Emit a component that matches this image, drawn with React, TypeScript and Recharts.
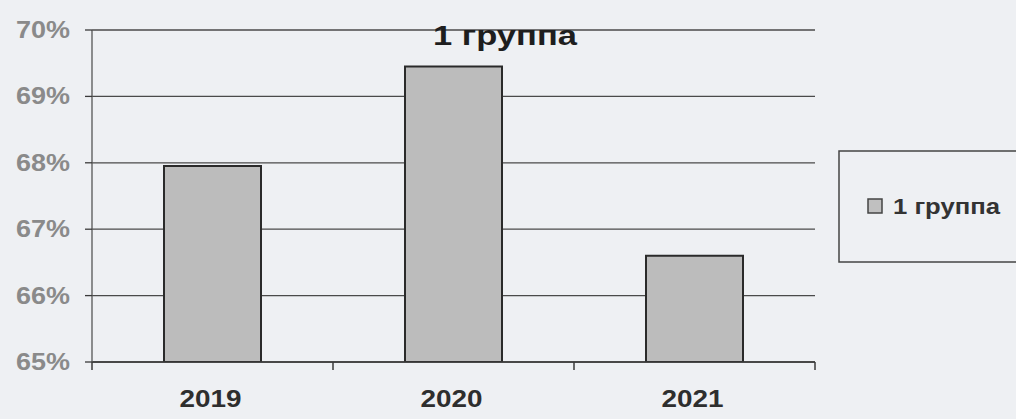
import React from "react";
import { BarChart, Bar, XAxis, YAxis, CartesianGrid } from "recharts";

const years = ["2019", "2020", "2021"];
const group1 = [67.95, 69.45, 66.6];
const yTicks = [65, 66, 67, 68, 69, 70];
const seriesName = "1 группа";
const chartTitle = "1 группа";

const data = years.map((year, i) => ({ idx: i + 0.5, year, value: group1[i] }));

const FONT = "'Liberation Sans', Arial, sans-serif";
const INK = "#3a3a3a";

const YTick = (props: any) => {
  const { x, y, payload } = props;
  return (
    <text
      x={x}
      y={y + 8}
      textAnchor="end"
      fontFamily={FONT}
      fontSize={23}
      fontWeight="bold"
      fill="#8a8a8a"
      textLength={54}
      lengthAdjust="spacingAndGlyphs"
    >
      {`${payload.value}%`}
    </text>
  );
};

// integer ticks are the category boundaries, half ticks carry the year label
const XTick = (props: any) => {
  const { x, y, payload } = props;
  const v = payload.value as number;
  if (Number.isInteger(v)) {
    return <line x1={x} y1={y} x2={x} y2={y + 8} stroke={INK} strokeWidth={1.5} />;
  }
  const label = years[Math.floor(v)];
  return (
    <text
      x={x - 2}
      y={y + 45}
      textAnchor="middle"
      fontFamily={FONT}
      fontSize={24}
      fontWeight="bold"
      fill="#2e2e2e"
      textLength={62}
      lengthAdjust="spacingAndGlyphs"
    >
      {label}
    </text>
  );
};

export default function App() {
  return (
    <div style={{ position: "relative", width: 1016, height: 419 }}>
      <style>{`body{margin:0;background:#eef0f3;}`}</style>
      <BarChart
        width={1016}
        height={419}
        data={data}
        margin={{ top: 30, right: 201, bottom: 0, left: 0 }}
      >
        <CartesianGrid vertical={false} stroke="#4a4a4a" strokeWidth={1.3} />
        <XAxis
          dataKey="idx"
          type="number"
          domain={[0, 3]}
          ticks={[0, 0.5, 1, 1.5, 2, 2.5, 3]}
          interval={0}
          allowDataOverflow
          tickLine={false}
          tickSize={0}
          tickMargin={0}
          tick={<XTick />}
          axisLine={{ stroke: INK, strokeWidth: 1.5 }}
          height={57}
        />
        <YAxis
          width={92}
          domain={[65, 70]}
          ticks={yTicks}
          interval={0}
          allowDataOverflow
          tickSize={7}
          tickMargin={15}
          tickLine={{ stroke: INK, strokeWidth: 1.3 }}
          axisLine={{ stroke: "#555", strokeWidth: 1.3 }}
          tick={<YTick />}
        />
        <Bar
          dataKey="value"
          name={seriesName}
          barSize={97}
          fill="#bcbcbc"
          stroke="#2a2a2a"
          strokeWidth={2}
          isAnimationActive={false}
        />
      </BarChart>
      <svg
        width={1016}
        height={419}
        style={{ position: "absolute", left: 0, top: 0, pointerEvents: "none" }}
      >
        <text
          x={505}
          y={45}
          textAnchor="middle"
          fontFamily={FONT}
          fontSize={28}
          fontWeight="bold"
          fill="#1e1e1e"
          textLength={144}
          lengthAdjust="spacingAndGlyphs"
        >
          {chartTitle}
        </text>
        <rect x={839} y={151} width={200} height={111} fill="none" stroke="#444" strokeWidth={1.5} />
        <rect x={868} y={199} width={14} height={14} fill="#c0c0c0" stroke="#444" strokeWidth={1.5} />
        <text
          x={893}
          y={214}
          fontFamily={FONT}
          fontSize={22}
          fontWeight="bold"
          fill="#333"
          textLength={107}
          lengthAdjust="spacingAndGlyphs"
        >
          {seriesName}
        </text>
      </svg>
    </div>
  );
}
